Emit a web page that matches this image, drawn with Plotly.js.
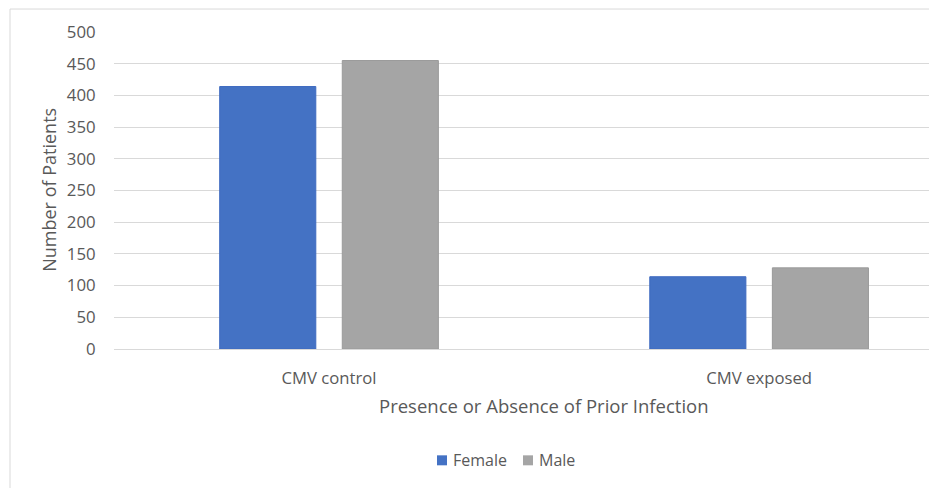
<!DOCTYPE html>
<html>
<head>
<meta charset="utf-8">
<script src="https://cdn.plot.ly/plotly-3.0.1.min.js"></script>
<style>
html,body{margin:0;padding:0;background:#fff;}
#chart{width:929px;height:488px;}
</style>
</head>
<body>
<div id="chart"></div>
<script>
var categories = ["CMV control", "CMV exposed"];
var seriesNames = ["Female", "Male"];
var femaleValues = [414, 114];
var maleValues = [455, 128];
var yTicks = [0, 50, 100, 150, 200, 250, 300, 350, 400, 450, 500];
var xTitle = "Presence or Absence of Prior Infection";
var yTitle = "Number of Patients";

var fontFam = "'Open Sans', Lato, sans-serif";
var textColor = "#595959";
var colors = ["#4472C4", "#A5A5A5"];
var edgeColors = ["#3F6BC0", "#9A9A9A"];

var traces = [
  {type: "bar", name: seriesNames[0], x: categories, y: femaleValues,
   marker: {color: colors[0], line: {color: edgeColors[0], width: 1}}},
  {type: "bar", name: seriesNames[1], x: categories, y: maleValues,
   marker: {color: colors[1], line: {color: edgeColors[1], width: 1}}}
];

var L = 114, T = 32, plotW = 815, plotH = 317.5;
function px(x) { return (x - L) / plotW; }
function py(y) { return (T + plotH - y) / plotH; }

// manual legend (Excel-style compact spacing)
var legendSquareX = [437, 523];
var legendY = 461;
var shapes = [
  {type: "line", xref: "paper", yref: "paper", x0: px(10), x1: 1.1,
   y0: py(9), y1: py(9), line: {color: "#d9d9d9", width: 1}},
  {type: "line", xref: "paper", yref: "paper", x0: px(10), x1: px(10),
   y0: py(9), y1: py(500), line: {color: "#d9d9d9", width: 1}}
];
var annotations = [
  {text: xTitle, xref: "paper", yref: "paper", x: px(544), y: py(406),
   xanchor: "center", yanchor: "middle", showarrow: false, font: {size: 18.5, color: textColor}},
  {text: yTitle, xref: "paper", yref: "paper", x: px(49), y: py(190),
   xanchor: "center", yanchor: "middle", showarrow: false, textangle: -90, font: {size: 18, color: textColor}}
];
seriesNames.forEach(function (name, i) {
  var sx = legendSquareX[i];
  shapes.push({type: "rect", xref: "paper", yref: "paper", x0: px(sx), x1: px(sx + 10),
               y0: py(legendY + 5), y1: py(legendY - 5), fillcolor: colors[i], line: {width: 0}});
  annotations.push({text: name, xref: "paper", yref: "paper", x: px(sx + 14), y: py(legendY),
                    xanchor: "left", yanchor: "middle", showarrow: false,
                    font: {size: 16, color: textColor}});
});

var layout = {
  width: 929, height: 488,
  margin: {l: L, r: 0, t: T, b: 488 - T - plotH},
  paper_bgcolor: "#ffffff", plot_bgcolor: "#ffffff",
  barmode: "group", bargap: 0.43, bargroupgap: 0.216,
  font: {family: fontFam, color: textColor, size: 16},
  showlegend: false,
  xaxis: {type: "category", range: [-0.5, 1.395], showgrid: false, zeroline: false,
          showline: false, ticks: "outside", ticklen: 14, tickcolor: "rgba(0,0,0,0)",
          tickfont: {size: 16.7, color: textColor}},
  yaxis: {range: [0, 500], tickvals: yTicks, showgrid: true, gridcolor: "#d9d9d9", gridwidth: 1,
          zeroline: true, zerolinecolor: "#d9d9d9", zerolinewidth: 1, showline: false,
          ticks: "outside", ticklen: 14, tickcolor: "rgba(0,0,0,0)",
          tickfont: {size: 16.8, color: textColor}},
  annotations: annotations,
  shapes: shapes
};

Plotly.newPlot("chart", traces, layout, {displayModeBar: false, staticPlot: true});
</script>
</body>
</html>
